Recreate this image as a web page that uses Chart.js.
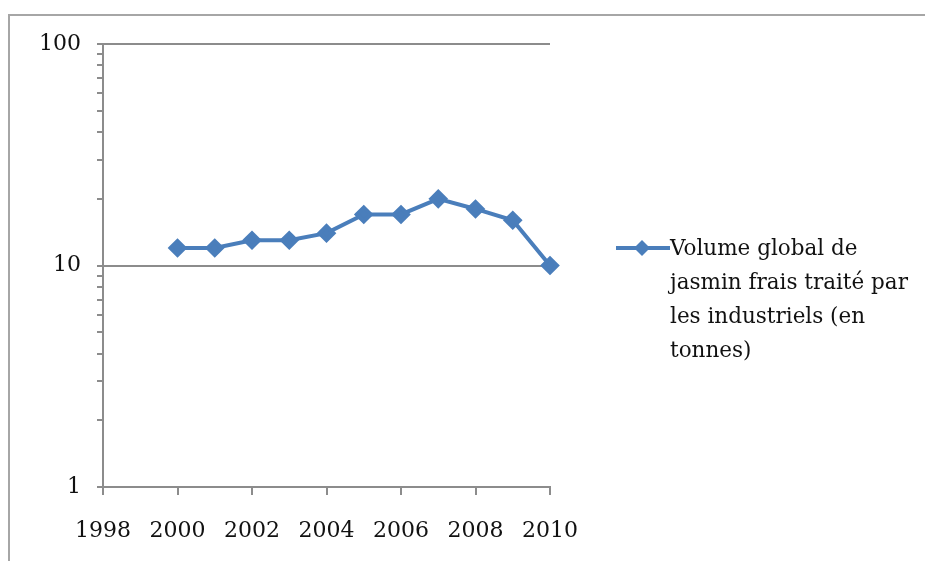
<!DOCTYPE html>
<html>
<head>
<meta charset="utf-8">
<script src="https://cdn.jsdelivr.net/npm/chart.js@4/dist/chart.umd.min.js"></script>
<style>
    html, body { margin: 0; padding: 0; background: #fff; }
    #wrap { position: relative; width: 925px; height: 561px; overflow: hidden; }
    #frame {
        position: absolute; left: 8px; top: 14px; right: -4px; bottom: -4px;
        border-top: 2px solid #a6a6a6; border-left: 2px solid #a6a6a6;
    }
    #legend {
        position: absolute; left: 616px; top: 231px;
        font-family: "DejaVu Serif", serif; font-size: 21.5px; line-height: 34px; color: #111;
    }
    #legend svg { position: absolute; left: 0; top: 8px; }
    #legend .txt { position: absolute; left: 54px; top: 0; width: 280px; white-space: nowrap; }
</style>
</head>
<body>
<div id="wrap">
    <div id="frame"></div>
    <canvas id="chart" width="925" height="561"></canvas>
    <div id="legend">
        <svg width="54" height="18">
            <line x1="0" y1="9" x2="54" y2="9" stroke="#4a7ebb" stroke-width="4"/>
            <polygon points="26,1 34,9 26,17 18,9" fill="#4a7ebb"/>
        </svg>
        <div class="txt" id="legend-text"></div>
    </div>
</div>
<script>
// データ
const years = [2000, 2001, 2002, 2003, 2004, 2005, 2006, 2007, 2008, 2009, 2010];
const volumes = [12, 12, 13, 13, 14, 17, 17, 20, 18, 16, 10];
const seriesLabel = 'Volume global de jasmin frais traité par les industriels (en tonnes)';
const xTickMin = 1998;
const xTickMax = 2010;
const xTickStep = 2;
const yTickValues = [1, 2, 3, 4, 5, 6, 7, 8, 9, 10, 20, 30, 40, 50, 60, 70, 80, 90, 100];
const yLabelValues = [1, 10, 100];

const LINE_COLOR = '#4a7ebb';
const AXIS_COLOR = '#8c8c8c';
const FONT = { family: '"DejaVu Serif", serif', size: 22 };

document.getElementById('legend-text').innerHTML =
    'Volume global de<br>jasmin frais traité par<br>les industriels (en<br>tonnes)';

const ctx = document.getElementById('chart').getContext('2d');
new Chart(ctx, {
    type: 'line',
    data: {
        datasets: [{
            label: seriesLabel,
            data: years.map((y, i) => ({ x: y, y: volumes[i] })),
            borderColor: LINE_COLOR,
            backgroundColor: LINE_COLOR,
            borderWidth: 4,
            pointStyle: 'rectRot',
            pointRadius: 7,
            pointBackgroundColor: LINE_COLOR,
            pointBorderColor: LINE_COLOR,
            tension: 0,
            clip: false
        }]
    },
    options: {
        responsive: false,
        animation: false,
        layout: { padding: { left: 8, top: 44, right: 375, bottom: 0 } },
        plugins: {
            legend: { display: false },
            tooltip: { enabled: false }
        },
        scales: {
            x: {
                type: 'linear',
                min: xTickMin,
                max: xTickMax,
                ticks: {
                    stepSize: xTickStep,
                    color: '#111',
                    font: FONT,
                    padding: 23,
                    maxRotation: 0,
                    callback: v => String(v)
                },
                grid: {
                    drawOnChartArea: false,
                    tickLength: 8,
                    color: AXIS_COLOR,
                    lineWidth: 2
                },
                border: { color: AXIS_COLOR, width: 2 },
                afterFit: scale => { scale.height = 561 - 487; }
            },
            y: {
                type: 'logarithmic',
                min: 1,
                max: 100,
                afterBuildTicks: scale => {
                    scale.ticks = yTickValues.map(v => ({ value: v }));
                },
                ticks: {
                    autoSkip: false,
                    color: '#111',
                    font: FONT,
                    padding: 16,
                    callback: v => (yLabelValues.includes(v) ? String(v) : '')
                },
                grid: {
                    color: c => (c.tick && yLabelValues.includes(c.tick.value) ? AXIS_COLOR : 'rgba(0,0,0,0)'),
                    tickColor: AXIS_COLOR,
                    tickLength: 6,
                    lineWidth: 2
                },
                border: { color: AXIS_COLOR, width: 2 },
                afterFit: scale => { scale.width = 95; }
            }
        }
    }
});
</script>
</body>
</html>
